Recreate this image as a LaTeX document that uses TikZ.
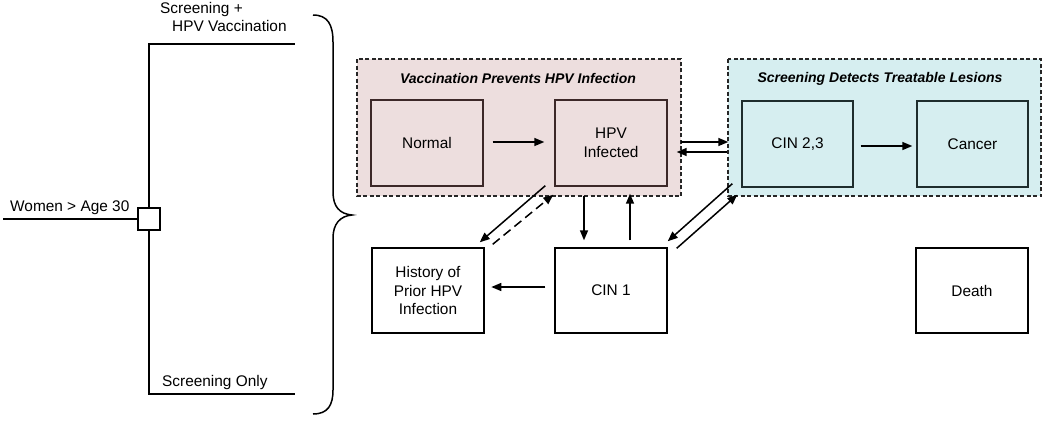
\documentclass[tikz,border=0pt]{standalone}
\usepackage{fontspec}
\setmainfont{Liberation Sans}
\usetikzlibrary{arrows.meta,calc}
\definecolor{pinkfill}{RGB}{237,222,222}
\definecolor{cyanfill}{RGB}{214,238,240}
\definecolor{pinkline}{RGB}{60,40,40}
\definecolor{cyanline}{RGB}{30,45,45}
\tikzset{
  statebox/.style={draw, line width=1.4pt, minimum width=112pt, minimum height=86pt, align=center, inner sep=0pt, font=\fontsize{15.4}{18.5}\selectfont},
  region/.style={draw=black!85, line width=1.4pt, dash pattern=on 4pt off 2.5pt},
  regtitle/.style={font=\fontsize{14}{16}\selectfont\bfseries\itshape},
  arr/.style={line width=1.5pt, -{Triangle[length=10pt,width=8pt]}},
  plain/.style={line width=1.5pt},
  lbl/.style={font=\fontsize{15.4}{18.5}\selectfont, inner sep=0pt}
}
\begin{document}
\begin{tikzpicture}[x=1pt,y=-1pt]
\useasboundingbox[fill=white] (0,0) rectangle (1050,426);
% regions
\draw[region, fill=pinkfill] (357,59) rectangle (681,196);
\draw[region, fill=cyanfill] (728,59) rectangle (1041,196);
\node[regtitle] (t1) at (518,78) {Vaccination Prevents HPV Infection};
\node[regtitle] (t2) at (880,79) {Screening Detects Treatable Lesions};
% states
\node[statebox, draw=pinkline] (normal) at (427,143) {Normal};
\node[statebox, draw=pinkline] (hpv) at (611,143) {HPV\\Infected};
\node[statebox, draw=cyanline, minimum width=111pt] (cin23) at (797.5,144) {CIN 2,3};
\node[statebox, draw=cyanline, minimum width=111pt] (cancer) at (972.5,144) {Cancer};
\node[statebox, minimum height=85pt] (hist) at (428,290.5) {History of\\Prior HPV\\Infection};
\node[statebox, minimum height=85pt] (cin1) at (611,290.5) {CIN 1};
\node[statebox, minimum height=85pt] (death) at (972,290.5) {Death};
% arrows
\draw[arr] ($(normal.east)+(9,-1)$) -- ($(hpv.west)+(-10,-1)$);
\draw[arr] ($(cin23.east)+(7,2)$) -- ($(cancer.west)+(-4,2)$);
\draw[arr] ($(hpv.east)+(13,-1)$) -- ($(cin23.west)+(-13,-2)$);
\draw[arr] ($(cin23.west)+(-14,8)$) -- ($(hpv.east)+(9,9)$);
\draw[arr] ($(hpv.south)+(-27,9)$) -- ($(cin1.north)+(-27,-7)$);
\draw[arr] ($(cin1.north)+(19,-7)$) -- ($(hpv.south)+(19,7)$);
\draw[arr] ($(hpv.south west)+(-9,-1)$) -- ($(hist.north east)+(-5,-5)$);
\draw[arr, dashed, dash pattern=on 9pt off 5pt] ($(hist.north east)+(8,-3)$) -- ($(hpv.south west)+(-1,8)$);
\draw[arr] ($(cin23.south west)+(-9,-4)$) -- ($(cin1.north east)+(0,-6)$);
\draw[arr] ($(cin1.north east)+(9,1)$) -- ($(cin23.south west)+(-4,7)$);
\draw[arr] ($(cin1.west)+(-9,-3.5)$) -- ($(hist.west)+(120,-3.5)$);
% decision tree
\node[draw, line width=1.3pt, fill=white, minimum size=22pt, inner sep=0pt] (dec) at (149,219) {};
\coordinate (start) at (3,219);
\coordinate (topend) at (295,44);
\coordinate (botend) at (295,394);
\draw[plain] (start) -- (dec.west);
\draw[plain] (dec.north) |- (topend);
\draw[plain] (dec.south) |- (botend);
\node[lbl, anchor=south west] (wlab) at (10,215) {Women > Age 30};
\node[lbl, anchor=north west, align=left] (slab) at (160,2) {Screening +\\\hspace*{12pt}HPV Vaccination};
\node[lbl, anchor=south west] (olab) at (162,390) {Screening Only};
% brace
\draw[line width=1.5pt] (313,15) .. controls (328,15) and (333,25) .. (333,42) -- (333,192) .. controls (333,207) and (340,214) .. (352,215) .. controls (340,216) and (333,224) .. (333,238) -- (333,390) .. controls (333,405) and (328,414) .. (313,414);
\end{tikzpicture}
\end{document}
